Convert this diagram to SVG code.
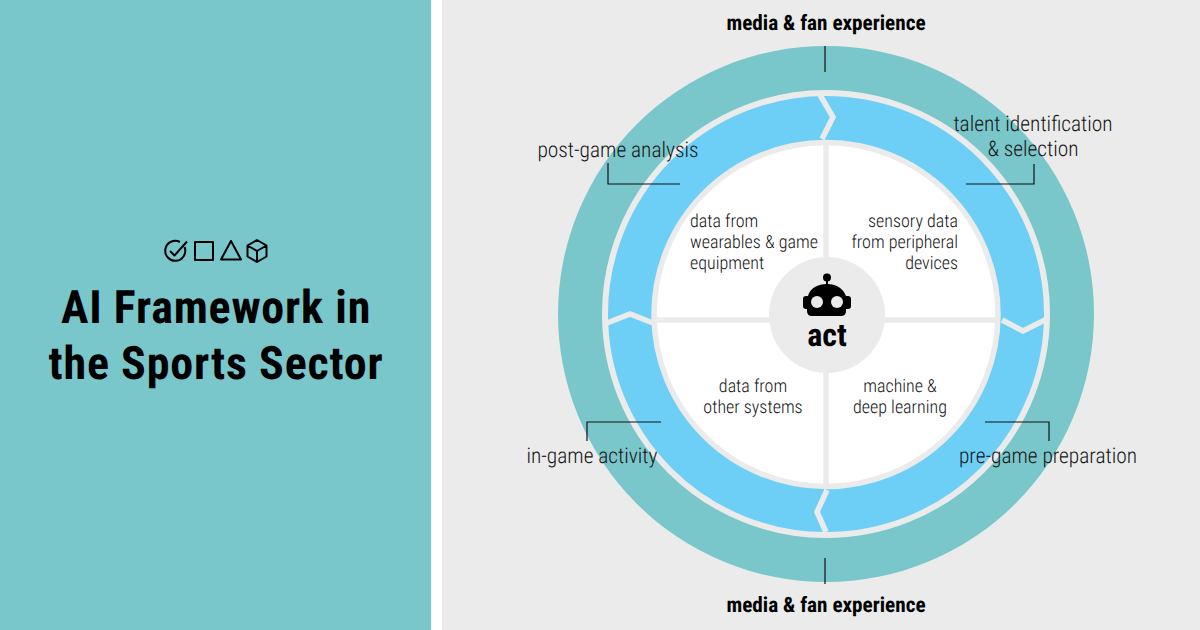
<svg xmlns="http://www.w3.org/2000/svg" width="1200" height="630" viewBox="0 0 1200 630">
<style>
text{font-family:"Roboto Condensed",Roboto,"Liberation Sans",sans-serif;fill:#000;text-rendering:geometricPrecision}
.t{font-size:46px;font-weight:700;text-anchor:middle;letter-spacing:.8px}
.l{font-size:21.4px;font-weight:300;text-anchor:middle;fill:#151515}
.b{font-size:21.200px;font-weight:700;text-anchor:middle}
.s{font-size:18px;font-weight:300;fill:#151515}
.m{text-anchor:middle}
.e{text-anchor:end}
.k{fill:none;stroke:#111;stroke-width:1.2}
.d{fill:none;stroke:#ebebeb;stroke-width:5.500}
.i{fill:none;stroke:#000;stroke-width:2;stroke-linejoin:round}
</style>
<rect width="1200" height="630" fill="#ebebeb"/>
<rect x="431" width="11" height="630" fill="#fff"/>
<rect width="431" height="630" fill="#7ac7cb"/>
<g id="title">
<g id="icons" class="i">
<path d="M184.500 247a10 10 0 1 1-4.500-5"/><path d="M170 251l4.500 4.500 12.500-14"/>
<rect x="195" y="242" width="18" height="18"/>
<path d="M231 241l10 18.500h-20z"/>
<path d="M257 240l9.500 5.500v11l-9.500 5.500-9.500-5.500v-11zM247.500 245.500l9.500 5.500 9.500-5.500M257 251v11"/>
</g>
<text class="t" x="216" y="323">AI Framework in</text>
<text class="t" x="216" y="379">the Sports Sector</text>
</g>
<g id="rings">
<circle cx="826" cy="314" r="268" fill="#7ac7cb"/>
<circle cx="826" cy="314" r="221" fill="#6ecff6" stroke="#ebebeb" stroke-width="6"/>
<circle cx="826" cy="314.500" r="172" fill="#fff" stroke="#ebebeb" stroke-width="5.500"/>
</g>
<g id="connectors">
<path class="d" d="M820 95l13 22-11 22M1002 320l21 11 22-11M607 323l23-9 23 9M827 490l-10 22 9 20M826 142v345M655 320h345"/>
<path class="k" d="M825 46v26M825 558v26M608 163v21h72M1034 164v20h-68M587 441v-19h74M1049 441v-19h-64"/>
</g>
<g id="hub">
<circle cx="827" cy="315" r="58" fill="#ebebeb"/>
<circle cx="827" cy="277.500" r="4" fill="#000"/><rect x="826" y="279" width="2" height="8" fill="#000"/>
<path d="M808 296c2-8 10-12 19-12s16 4 19 12h2q3 0 3 3v7q0 3-3 3h-2v2q0 5-5 5h-29q-5 0-5-5v-2h-1q-3 0-3-3v-7q0-3 3-3z" fill="#000"/>
<circle cx="817" cy="302" r="6" fill="#ebebeb"/><circle cx="837" cy="302" r="6" fill="#ebebeb"/>
<text x="827" y="346" style="font-size:32px;font-weight:700;text-anchor:middle">act</text>
</g>
<g id="n1"><text class="b" x="826" y="30">media &amp; fan experience</text></g>
<g id="n2"><text class="b" x="826" y="612">media &amp; fan experience</text></g>
<g id="n3"><text class="l" x="1033" y="131">talent identification</text><text class="l" x="1033" y="156">&amp; selection</text></g>
<g id="n4"><text class="l" x="618" y="157">post-game analysis</text></g>
<g id="n5"><text class="l" x="592" y="463">in-game activity</text></g>
<g id="n6"><text class="l" x="1048" y="463">pre-game preparation</text></g>
<g id="q1"><text class="s" x="690" y="227">data from</text><text class="s" x="690" y="248">wearables &amp; game</text><text class="s" x="690" y="269">equipment</text></g>
<g id="q2"><text class="s e" x="958" y="227">sensory data</text><text class="s e" x="958" y="248">from peripheral</text><text class="s e" x="958" y="269">devices</text></g>
<g id="q3"><text class="s m" x="753" y="392">data from</text><text class="s m" x="753" y="413">other systems</text></g>
<g id="q4"><text class="s m" x="900" y="392">machine &amp;</text><text class="s m" x="900" y="413">deep learning</text></g>
</svg>
